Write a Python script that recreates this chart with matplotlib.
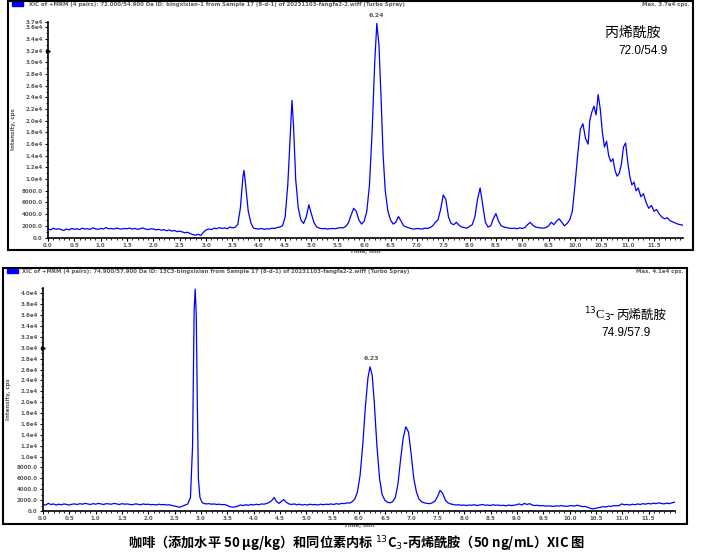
import matplotlib
matplotlib.use("Agg")
import matplotlib.pyplot as plt
from matplotlib.patches import Rectangle
from matplotlib.ticker import MultipleLocator, FuncFormatter, FixedLocator

# top trace: 72.0/54.9 (time in min, intensity in cps)
t1 = [0.00, 0.05, 0.10, 0.15, 0.20, 0.25, 0.30, 0.35, 0.40, 0.45, 0.50, 0.55, 0.60, 0.65, 0.70, 0.75,
      0.80, 0.85, 0.90, 0.95, 1.00, 1.05, 1.10, 1.15, 1.20, 1.25, 1.30, 1.35, 1.40, 1.45, 1.50, 1.55,
      1.60, 1.65, 1.70, 1.75, 1.80, 1.85, 1.90, 1.95, 2.00, 2.05, 2.10, 2.15, 2.20, 2.25, 2.30, 2.35,
      2.40, 2.45, 2.50, 2.55, 2.60, 2.65, 2.70, 2.75, 2.80, 2.85, 2.90, 2.95, 3.00, 3.05, 3.10, 3.15,
      3.20, 3.25, 3.30, 3.35, 3.40, 3.45, 3.50, 3.55, 3.60, 3.65, 3.70, 3.72, 3.75, 3.80, 3.85, 3.90,
      3.95, 4.00, 4.05, 4.10, 4.15, 4.20, 4.25, 4.30, 4.35, 4.40, 4.45, 4.50, 4.55, 4.60, 4.63, 4.66,
      4.70, 4.75, 4.80, 4.85, 4.90, 4.95, 5.00, 5.05, 5.10, 5.15, 5.20, 5.25, 5.30, 5.35, 5.40, 5.45,
      5.50, 5.55, 5.60, 5.65, 5.70, 5.75, 5.80, 5.85, 5.90, 5.95, 6.00, 6.05, 6.10, 6.15, 6.20, 6.24,
      6.28, 6.32, 6.36, 6.40, 6.45, 6.50, 6.55, 6.60, 6.65, 6.70, 6.75, 6.80, 6.85, 6.90, 6.95, 7.00,
      7.05, 7.10, 7.15, 7.20, 7.25, 7.30, 7.35, 7.40, 7.45, 7.50, 7.55, 7.60, 7.65, 7.70, 7.75, 7.80,
      7.85, 7.90, 7.95, 8.00, 8.05, 8.10, 8.15, 8.20, 8.25, 8.30, 8.35, 8.40, 8.45, 8.50, 8.55, 8.60,
      8.65, 8.70, 8.75, 8.80, 8.85, 8.90, 8.95, 9.00, 9.05, 9.10, 9.15, 9.20, 9.25, 9.30, 9.35, 9.40,
      9.45, 9.50, 9.55, 9.60, 9.65, 9.70, 9.75, 9.80, 9.85, 9.90, 9.95, 10.00, 10.05, 10.10, 10.15,
      10.20, 10.25, 10.28, 10.32, 10.36, 10.40, 10.44, 10.48, 10.52, 10.56, 10.60, 10.64, 10.68, 10.72,
      10.76, 10.80, 10.84, 10.88, 10.92, 10.96, 11.00, 11.04, 11.08, 11.12, 11.16, 11.20, 11.25, 11.30,
      11.35, 11.40, 11.45, 11.50, 11.55, 11.60, 11.65, 11.70, 11.75, 11.80, 11.85, 11.90, 11.95, 12.00,
      12.05]
y1 = [1500, 1300, 1600, 1400, 1500, 1350, 1200, 1450, 1300, 1550, 1400, 1500, 1350, 1600, 1450, 1500,
      1400, 1650, 1500, 1400, 1550, 1450, 1700, 1500, 1550, 1450, 1600, 1500, 1450, 1550, 1500, 1600,
      1450, 1550, 1400, 1500, 1650, 1450, 1350, 1500, 1450, 1300, 1400, 1250, 1350, 1150, 1300, 1100,
      1200, 1000, 1100, 950, 800, 900, 650, 500, 400, 550, 350, 900, 1300, 1450, 1350, 1600,
      1500, 1700, 1550, 1650, 1500, 1800, 1650, 1750, 2200, 5000, 10500, 11500, 9000, 4500, 2500, 1600,
      1500, 1450, 1550, 1400, 1500, 1450, 1600, 1550, 1700, 1800, 2000, 3500, 9000, 18000, 23500, 19000,
      10000, 5000, 3000, 2400, 3500, 5600, 4000, 2500, 1800, 1600, 1500, 1550, 1450, 1500, 1550, 1500,
      1600, 1700, 1650, 1900, 2500, 3800, 5000, 4500, 3000, 2300, 2800, 4500, 9000, 18000, 30000, 36700,
      33000, 24000, 14000, 8000, 4500, 3000, 2300, 2600, 3600, 2800, 2000, 1800, 1650, 1500, 1450, 1550,
      1500, 1450, 1600, 1550, 1700, 2000, 2600, 3000, 4800, 7300, 6500, 3500, 2400, 2200, 2600, 2100,
      1800, 1700, 1600, 1900, 2200, 3500, 6500, 8500, 5500, 2600, 1800, 2000, 3200, 4100, 2800, 2000,
      1800, 1700, 1600, 1550, 1600, 1500, 1650, 1550, 1700, 2200, 2600, 2100, 1800, 1700, 1650, 1600,
      1700, 2000, 2600, 2200, 2800, 3200, 2600, 2000, 2400, 3000, 4500, 9000, 14000, 18500, 19500,
      17000, 16000, 20000, 21500, 22500, 21000, 24500, 22000, 18000, 15500, 16500, 14000, 13000, 13500,
      11500, 10500, 11000, 12500, 15500, 16200, 13000, 10500, 9000, 9500, 8000, 8500, 7000, 7500,
      6000, 5000, 5500, 4500, 4800, 4000, 3500, 3200, 3400, 2900, 2700, 2500, 2300, 2200,
      2100]

# bottom trace: 74.9/57.9 (13C3 internal standard)
t2 = [0.00, 0.05, 0.10, 0.15, 0.20, 0.25, 0.30, 0.35, 0.40, 0.45, 0.50, 0.55, 0.60, 0.65, 0.70, 0.75,
      0.80, 0.85, 0.90, 0.95, 1.00, 1.05, 1.10, 1.15, 1.20, 1.25, 1.30, 1.35, 1.40, 1.45, 1.50, 1.55,
      1.60, 1.65, 1.70, 1.75, 1.80, 1.85, 1.90, 1.95, 2.00, 2.05, 2.10, 2.15, 2.20, 2.25, 2.30, 2.35,
      2.40, 2.45, 2.50, 2.55, 2.60, 2.65, 2.70, 2.75, 2.80, 2.84, 2.87, 2.89, 2.91, 2.93, 2.95, 2.98,
      3.02, 3.05, 3.10, 3.15, 3.20, 3.25, 3.30, 3.35, 3.40, 3.45, 3.50, 3.55, 3.60, 3.65, 3.70, 3.75,
      3.80, 3.85, 3.90, 3.95, 4.00, 4.05, 4.10, 4.15, 4.20, 4.25, 4.30, 4.35, 4.39, 4.43, 4.48, 4.52,
      4.57, 4.62, 4.67, 4.72, 4.77, 4.82, 4.87, 4.92, 4.97, 5.02, 5.07, 5.12, 5.17, 5.22, 5.27, 5.32,
      5.37, 5.42, 5.47, 5.52, 5.57, 5.62, 5.67, 5.72, 5.77, 5.82, 5.87, 5.92, 5.97, 6.02, 6.07, 6.12,
      6.17, 6.21, 6.25, 6.29, 6.34, 6.39, 6.44, 6.49, 6.54, 6.59, 6.64, 6.69, 6.74, 6.79, 6.84, 6.89,
      6.94, 6.99, 7.04, 7.09, 7.14, 7.19, 7.24, 7.29, 7.34, 7.39, 7.44, 7.49, 7.54, 7.59, 7.64, 7.69,
      7.74, 7.79, 7.84, 7.89, 7.94, 7.99, 8.04, 8.09, 8.14, 8.19, 8.24, 8.29, 8.34, 8.39, 8.44, 8.49,
      8.54, 8.59, 8.64, 8.69, 8.74, 8.79, 8.84, 8.89, 8.94, 8.99, 9.04, 9.09, 9.14, 9.19, 9.24, 9.29,
      9.34, 9.39, 9.44, 9.49, 9.54, 9.59, 9.64, 9.69, 9.74, 9.79, 9.84, 9.89, 9.94, 9.99, 10.04, 10.09,
      10.14, 10.19, 10.24, 10.29, 10.34, 10.39, 10.44, 10.49, 10.54, 10.59, 10.64, 10.69, 10.74, 10.79,
      10.84, 10.89, 10.94, 10.99, 11.04, 11.09, 11.14, 11.19, 11.24, 11.29, 11.34, 11.39, 11.44, 11.49,
      11.54, 11.59, 11.64, 11.69, 11.74, 11.79, 11.84, 11.89, 11.94, 11.99]
y2 = [1200, 1100, 1400, 1200, 1300, 1100, 1250, 1150, 1300, 1200, 1100, 1250, 1300, 1200, 1350, 1250,
      1400, 1300, 1200, 1350, 1250, 1400, 1300, 1200, 1350, 1300, 1250, 1400, 1300, 1200, 1350, 1250,
      1300, 1200, 1150, 1300, 1250, 1150, 1300, 1200, 1250, 1150, 1200, 1100, 1250, 1150, 1200, 1100,
      1150, 1000, 900, 800, 700, 900, 1100, 1300, 2500, 12000, 37000, 40800, 36000, 20000, 6000, 2500,
      1600, 1400, 1300, 1350, 1250, 1300, 1200, 1250, 1150, 1200, 1000, 800, 700, 750, 900, 1100,
      1000, 1150, 1050, 1200, 1100, 1250, 1150, 1300, 1250, 1400, 1600, 2000, 2500, 1800, 1400, 1700,
      2100, 1600, 1300, 1200, 1300, 1150, 1250, 1100, 1200, 1100, 1250, 1150, 1200, 1100, 1250, 1150,
      1250, 1200, 1300, 1200, 1350, 1250, 1400, 1350, 1500, 1450, 1700, 2200, 3500, 6500, 12000, 19000,
      24500, 26500, 25000, 20000, 12000, 6000, 3000, 2000, 1600, 1500, 1700, 2500, 5000, 9500, 13500, 15500,
      14500, 10500, 6000, 3500, 2200, 1700, 1500, 1400, 1350, 1500, 1800, 2600, 3800, 3200, 2000, 1500,
      1300, 1200, 1100, 1150, 1050, 1100, 1000, 1100, 1050, 1150, 1000, 1100, 1200, 1050, 1100, 1000,
      1150, 1050, 1100, 1000, 1050, 950, 1100, 1000, 1050, 1150, 1300, 1100, 1400, 1200, 1350, 1100,
      1000, 1050, 950, 1000, 900, 950, 900, 850, 950, 900, 1000, 900, 850, 950, 1000, 900,
      1050, 950, 800, 850, 700, 500, 400, 500, 600, 700, 800, 750, 900, 850,
      1000, 950, 1000, 1300, 1150, 1200, 1100, 1250, 1150, 1300, 1200, 1350, 1250, 1400,
      1300, 1450, 1350, 1500, 1400, 1300, 1450, 1350, 1500, 1600]

header1 = "XIC of +MRM (4 pairs): 72.000/54.900 Da ID: bingxixian-1 from Sample 17 (8-d-1) of 20231103-fangfa2-2.wiff (Turbo Spray)"
header2 = "XIC of +MRM (4 pairs): 74.900/57.900 Da ID: 13C3-bingxixian from Sample 17 (8-d-1) of 20231103-fangfa2-2.wiff (Turbo Spray)"
max1 = "Max. 3.7e4 cps."
max2 = "Max. 4.1e4 cps."
peak1 = (6.24, 36700)
peak2 = (6.23, 26500)
ymax1, ymax2 = 37000, 41000
xticks = [i * 0.5 for i in range(24)]   # 0.0 ... 11.5
caption = "咖啡（添加水平 50 μg/kg）和同位素内标 $^{13}$C$_3$-丙烯酰胺（50 ng/mL）XIC 图"

W, H = 705, 555
grey = "#5a5a5a"
blue = "#0000ff"

fig = plt.figure(figsize=(W / 100, H / 100), dpi=100)


def px(x0, y0, x1, y1):
    # pixel box (top-left origin) -> figure fraction rect
    return [x0 / W, 1 - y1 / H, (x1 - x0) / W, (y1 - y0) / H]


def ylab(v, pos):
    if v < 10000:
        return "%.1f" % v
    return "%.1fe4" % (v / 10000)


def setup(ax, xmax, ymax, extra_top):
    ax.set_xlim(0, xmax)
    ax.set_ylim(0, ymax)
    for s in ["top", "right"]:
        ax.spines[s].set_visible(False)
    for s in ["left", "bottom"]:
        ax.spines[s].set_linewidth(1.2)
    ax.xaxis.set_major_locator(FixedLocator(xticks))
    ax.xaxis.set_minor_locator(MultipleLocator(0.1))
    ticks = list(range(0, ymax - 999, 2000))
    if extra_top:
        ticks.append(ymax)
    ax.set_yticks(ticks)
    ax.yaxis.set_minor_locator(MultipleLocator(1000))
    ax.yaxis.set_major_formatter(FuncFormatter(ylab))
    ax.xaxis.set_major_formatter(FuncFormatter(lambda v, p: "%.1f" % v))
    ax.tick_params(axis="both", which="major", labelsize=4, labelcolor=grey,
                   length=2.2, width=0.8, pad=1.5)
    ax.tick_params(axis="both", which="minor", length=1.2, width=0.6)
    for lab in ax.get_xticklabels() + ax.get_yticklabels():
        lab.set_fontweight("bold")
    ax.set_xlabel("Time, min", fontsize=4, color=grey, fontweight="bold", labelpad=1)
    ax.set_ylabel("Intensity, cps", fontsize=4, color=grey, fontweight="bold", labelpad=4)
    ax.patch.set_alpha(0)


# frames around the two panels
fig.patches.append(Rectangle((8 / W, 1 - 250 / H), 685 / W, 249 / H, transform=fig.transFigure,
                             fill=False, lw=1.5, ec="black"))
fig.patches.append(Rectangle((3 / W, 1 - 524 / H), 684 / W, 256 / H, transform=fig.transFigure,
                             fill=False, lw=1.5, ec="black"))
fig.patches.append(Rectangle((12 / W, 1 - 6 / H), 11 / W, 4 / H, transform=fig.transFigure,
                             color=blue))
fig.patches.append(Rectangle((7 / W, 1 - 273 / H), 11 / W, 4 / H, transform=fig.transFigure,
                             color=blue))

fig.text(29 / W, 1 - 4.5 / H, header1, fontsize=3.9, color=grey, va="center", fontweight="bold")
fig.text(690 / W, 1 - 4.5 / H, max1, fontsize=3.9, color=grey, va="center", ha="right", fontweight="bold")
fig.text(22 / W, 1 - 272 / H, header2, fontsize=3.9, color=grey, va="center", fontweight="bold")
fig.text(684 / W, 1 - 272 / H, max2, fontsize=3.9, color=grey, va="center", ha="right", fontweight="bold")

# top chromatogram
ax1 = fig.add_axes(px(48, 21.6, 683, 237.5))
ax1.plot(t1, y1, color=blue, lw=0.9)
setup(ax1, 12.05, ymax1, True)
ax1.annotate("%.2f" % peak1[0], xy=peak1, xytext=(0, 4), textcoords="offset points",
             ha="center", va="bottom", fontsize=4.5, color=grey, fontweight="bold")
ax1.plot([0], [32000], marker=">", ms=2.5, color="black", clip_on=False)

fig.text(633 / W, 1 - 33 / H, "丙烯酰胺", fontsize=10, family=["Noto Sans CJK SC"],
         ha="center", va="center")
fig.text(643 / W, 1 - 51 / H, "72.0/54.9", fontsize=8.5, family=["Liberation Sans"],
         ha="center", va="center")

# bottom chromatogram
ax2 = fig.add_axes(px(43, 288, 675, 511))
ax2.plot(t2, y2, color=blue, lw=0.9)
setup(ax2, 12.0, ymax2, False)
ax2.annotate("%.2f" % peak2[0], xy=peak2, xytext=(0, 4), textcoords="offset points",
             ha="center", va="bottom", fontsize=4.5, color=grey, fontweight="bold")
ax2.plot([0], [30000], marker=">", ms=2.5, color="black", clip_on=False)

fig.text(616 / W, 1 - 315 / H, "$^{13}$C$_3$-", fontsize=9, family=["Liberation Serif"],
         ha="right", va="center")
fig.text(616 / W, 1 - 315 / H, "丙烯酰胺", fontsize=9, family=["Noto Sans CJK SC"],
         ha="left", va="center")
fig.text(626 / W, 1 - 333 / H, "74.9/57.9", fontsize=8.5, family=["Liberation Sans"],
         ha="center", va="center")

fig.text(357 / W, 1 - 543 / H, caption, fontsize=9.5, family=["Noto Sans CJK SC", "DejaVu Sans"],
         fontweight="bold", ha="center", va="center")

fig.savefig("out.png", dpi=100)
